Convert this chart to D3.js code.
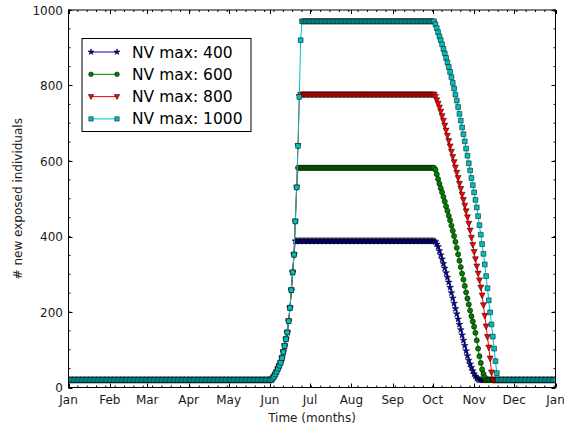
<!DOCTYPE html>
<html>
<head>
<meta charset="utf-8">
<script src="https://cdn.jsdelivr.net/npm/d3@7"></script>
<style>
  html, body { margin: 0; padding: 0; background: #fff; }
  svg { display: block; font-family: "DejaVu Sans", sans-serif; }
</style>
</head>
<body>
<svg id="chart" width="564" height="430"></svg>
<script>
// ---------------- data ----------------
const monthLabels = ["Jan","Feb","Mar","Apr","May","Jun","Jul","Aug","Sep","Oct","Nov","Dec","Jan"];
const yTicks = [0, 200, 400, 600, 800, 1000];
const seriesNames = ["NV max: 400", "NV max: 600", "NV max: 800", "NV max: 1000"];
const seriesColors = ["#0000bf", "#007f00", "#ff0000", "#00bfbf"];
const seriesMarkers = ["star", "circle", "triangle", "square"];

const baselineValue = 20;          // flat level before the rise and after the decline
const riseStartDay = 153;          // day index (0 = 1 Jan) of first rising value
// shared rising phase, one value per day
const riseValues = [24, 29, 35, 42, 50, 58, 66, 78, 94, 110, 128, 146, 176, 211, 258, 305, 352, 440, 530, 640, 770, 920, 970];
const plateauValues = [388, 582, 776, 970];
const declineStartDay = 275;
const decline400 = [386, 380, 373, 362, 351, 340, 328, 316, 304, 292, 279, 265, 251, 237, 223, 209, 195, 181, 167, 153, 139, 125, 111, 97, 84, 72, 62, 53, 44, 36, 30, 25, 22];
const decline600 = [577, 565, 552, 540, 528, 517, 505, 493, 480, 468, 455, 443, 429, 415, 401, 386, 370, 353, 336, 319, 302, 286, 269, 252, 236, 220, 204, 189, 175, 161, 145, 125, 103, 83, 65, 48, 36, 27];
const decline800 = [770, 761, 752, 742, 731, 719, 707, 694, 681, 667, 653, 639, 625, 611, 597, 583, 569, 555, 540, 526, 511, 497, 482, 467, 451, 434, 416, 397, 378, 359, 340, 321, 302, 284, 265, 244, 218, 190, 162, 134, 106, 77, 40];
const decline1000 = [962, 952, 941, 930, 920, 909, 897, 885, 873, 861, 849, 836, 822, 807, 792, 776, 760, 743, 725, 707, 689, 671, 652, 633, 614, 594, 575, 555, 536, 517, 497, 477, 454, 430, 405, 380, 354, 326, 295, 263, 231, 199, 167, 135, 103, 70, 38];
const declines = [decline400, decline600, decline800, decline1000];
const lastDay = 365;

// ---------------- build series from the read segments ----------------
function buildSeries(k) {
  const pts = [];
  for (let d = 0; d < riseStartDay; d++) pts.push([d, baselineValue]);
  let d = riseStartDay;
  for (const v of riseValues) {
    if (v >= plateauValues[k]) break;
    pts.push([d, v]); d++;
  }
  for (; d < declineStartDay; d++) pts.push([d, plateauValues[k]]);
  for (const v of declines[k]) { pts.push([d, v]); d++; }
  for (; d <= lastDay; d++) pts.push([d, baselineValue]);
  return pts.map(([day, v]) => ({ date: new Date(Date.UTC(2015, 0, 1 + day)), value: v }));
}
const series = seriesNames.map((n, k) => ({ name: n, color: seriesColors[k], marker: seriesMarkers[k], values: buildSeries(k) }));

// ---------------- layout ----------------
const svg = d3.select("#chart");
const L = 68.5, T = 10, R = 555.5, B = 387.5;
const x = d3.scaleUtc().domain([new Date(Date.UTC(2015,0,1)), new Date(Date.UTC(2016,0,1))]).range([L, R]);
const y = d3.scaleLinear().domain([0, 1000]).range([B, T]);

const monthDates = d3.range(13).map(i => new Date(Date.UTC(2015, i, 1)));
const weekDates = d3.range(0, 366, 7).map(i => new Date(Date.UTC(2015, 0, 1 + i)));
const yMinor = d3.range(0, 1001, 50);

const plot = svg.append("g");
plot.append("clipPath").attr("id", "clip").append("rect")
  .attr("x", L).attr("y", T - 4).attr("width", R - L).attr("height", B - T + 8);

// ---------------- series ----------------
const line = d3.line().x(d => x(d.date)).y(d => y(d.value));
function markerPath(type, s) {
  if (type === "circle") return d3.symbol(d3.symbolCircle, Math.PI * s * s / 4)();
  if (type === "square") return d3.symbol(d3.symbolSquare, s * s)();
  if (type === "star") return d3.symbol(d3.symbolStar, s * s * 0.45)();
  if (type === "triangle") {
    const h = s * 0.5;
    return `M${-h},${-h * 0.8}L${h},${-h * 0.8}L0,${h * 1.1}Z`;
  }
}
const markerSize = { star: 5.6, circle: 5.2, triangle: 6, square: 4.8 };

const seriesG = plot.append("g").attr("clip-path", "url(#clip)");
series.forEach(s => {
  const g = seriesG.append("g");
  g.append("path").datum(s.values).attr("d", line)
    .attr("fill", "none").attr("stroke", s.color).attr("stroke-width", 1);
  g.selectAll("path.m").data(s.values).join("path").attr("class", "m")
    .attr("transform", d => `translate(${x(d.date)},${y(d.value)})`)
    .attr("d", markerPath(s.marker, markerSize[s.marker]))
    .attr("fill", s.color).attr("stroke", "#000").attr("stroke-width", 0.5);
});

// ---------------- axes & frame ----------------
const axG = svg.append("g").attr("stroke", "#000").attr("stroke-width", 1);
monthDates.forEach(dt => {
  const xx = Math.round(x(dt)) + 0.5;
  axG.append("line").attr("x1", xx).attr("x2", xx).attr("y1", B).attr("y2", B - 4);
  axG.append("line").attr("x1", xx).attr("x2", xx).attr("y1", T).attr("y2", T + 4);
});
weekDates.forEach(dt => {
  const xx = x(dt);
  axG.append("line").attr("x1", xx).attr("x2", xx).attr("y1", B).attr("y2", B - 2);
  axG.append("line").attr("x1", xx).attr("x2", xx).attr("y1", T).attr("y2", T + 2);
});
yTicks.forEach(v => {
  const yy = Math.round(y(v)) + 0.5;
  axG.append("line").attr("x1", L).attr("x2", L + 4).attr("y1", yy).attr("y2", yy);
  axG.append("line").attr("x1", R).attr("x2", R - 4).attr("y1", yy).attr("y2", yy);
});
yMinor.forEach(v => {
  const yy = y(v);
  axG.append("line").attr("x1", L).attr("x2", L + 2).attr("y1", yy).attr("y2", yy);
  axG.append("line").attr("x1", R).attr("x2", R - 2).attr("y1", yy).attr("y2", yy);
});
svg.append("rect").attr("x", L).attr("y", T).attr("width", R - L).attr("height", B - T)
  .attr("fill", "none").attr("stroke", "#000").attr("stroke-width", 1);

// tick labels
svg.append("g").selectAll("text").data(monthDates).join("text")
  .attr("x", d => x(d)).attr("y", 404).attr("text-anchor", "middle")
  .attr("font-size", 12).attr("fill", "#1a1a1a")
  .text((d, i) => monthLabels[i]);
svg.append("g").selectAll("text").data(yTicks).join("text")
  .attr("x", 63).attr("y", d => y(d) + 4.5).attr("text-anchor", "end")
  .attr("font-size", 12).attr("fill", "#1a1a1a")
  .text(d => d);

// axis titles
svg.append("text").attr("x", (L + R) / 2).attr("y", 422).attr("text-anchor", "middle")
  .attr("font-size", 12).attr("fill", "#1a1a1a").text("Time (months)");
svg.append("text").attr("transform", `translate(22,${(T + B) / 2}) rotate(-90)`)
  .attr("text-anchor", "middle").attr("font-size", 12).attr("fill", "#1a1a1a")
  .text("# new exposed individuals");

// ---------------- legend ----------------
const lg = svg.append("g");
lg.append("rect").attr("x", 82).attr("y", 38.5).attr("width", 169).attr("height", 93)
  .attr("fill", "#fff").attr("stroke", "#000").attr("stroke-width", 1);
series.forEach((s, i) => {
  const yy = 52 + i * 22.3;
  lg.append("line").attr("x1", 91).attr("x2", 117).attr("y1", yy).attr("y2", yy)
    .attr("stroke", s.color).attr("stroke-width", 1);
  [91, 117].forEach(xx => lg.append("path")
    .attr("transform", `translate(${xx},${yy})`)
    .attr("d", markerPath(s.marker, markerSize[s.marker] * 0.9))
    .attr("fill", s.color).attr("stroke", "#000").attr("stroke-width", 0.5));
  lg.append("text").attr("x", 132).attr("y", yy + 5.5).attr("font-size", 15.5)
    .attr("fill", "#000").text(s.name);
});
</script>
</body>
</html>
